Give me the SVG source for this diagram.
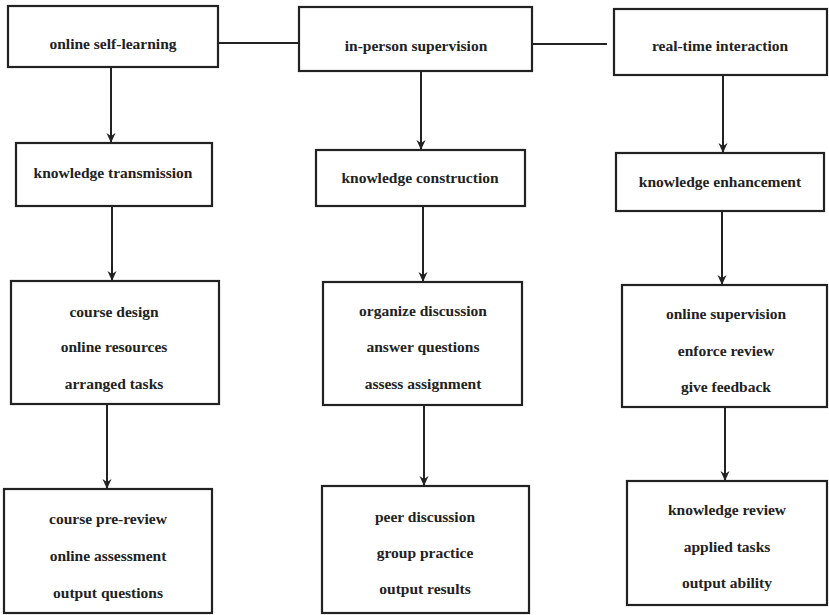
<svg xmlns="http://www.w3.org/2000/svg" width="829" height="615" viewBox="0 0 829 615">
<style>
.box{fill:#fff;stroke:#222;stroke-width:2.2}
.t{font-family:'Liberation Serif','Times New Roman','DejaVu Serif',serif;font-weight:700;font-size:15.5px;fill:#222;text-anchor:middle}
.ln{stroke:#222;stroke-width:2;fill:none}
</style>
<defs>
<marker id="ah" viewBox="0 0 10 10" refX="9" refY="5" markerWidth="10" markerHeight="10" markerUnits="userSpaceOnUse" orient="auto">
<path d="M0,0.5 L10,5 L0,9.5 L3,5 Z" fill="#222"/>
</marker>
</defs>
<rect width="829" height="615" fill="#fff"/>
<g id="connectors">
<line class="ln" x1="218" y1="43" x2="299" y2="43"/>
<line class="ln" x1="532" y1="44" x2="607" y2="44"/>
<line class="ln" x1="111" y1="67" x2="111" y2="142" marker-end="url(#ah)"/>
<line class="ln" x1="112" y1="206" x2="112" y2="280" marker-end="url(#ah)"/>
<line class="ln" x1="107" y1="404" x2="107" y2="488" marker-end="url(#ah)"/>
<line class="ln" x1="421" y1="71" x2="421" y2="149" marker-end="url(#ah)"/>
<line class="ln" x1="423" y1="206" x2="423" y2="281" marker-end="url(#ah)"/>
<line class="ln" x1="424" y1="405" x2="424" y2="485" marker-end="url(#ah)"/>
<line class="ln" x1="723" y1="75" x2="723" y2="152" marker-end="url(#ah)"/>
<line class="ln" x1="722" y1="211" x2="722" y2="284" marker-end="url(#ah)"/>
<line class="ln" x1="725" y1="407" x2="725" y2="480" marker-end="url(#ah)"/>
</g>
<g font-family="Liberation Serif, serif">
<g id="n1"><rect class="box" x="8" y="6" width="210" height="61"/><text class="t" x="113" y="49">online self-learning</text></g>
<g id="n2"><rect class="box" x="299" y="7" width="233" height="64"/><text class="t" x="416" y="51">in-person supervision</text></g>
<g id="n3"><rect class="box" x="614" y="9" width="213" height="66"/><text class="t" x="720" y="51">real-time interaction</text></g>
<g id="n4"><rect class="box" x="16" y="143" width="196" height="63"/><text class="t" x="113" y="178">knowledge transmission</text></g>
<g id="n5"><rect class="box" x="316" y="150" width="209" height="56"/><text class="t" x="420" y="183">knowledge construction</text></g>
<g id="n6"><rect class="box" x="616" y="153" width="208" height="58"/><text class="t" x="720" y="187">knowledge enhancement</text></g>
<g id="n7"><rect class="box" x="11" y="281" width="208" height="123"/>
<text class="t" x="114" y="317">course design</text><text class="t" x="114" y="352">online resources</text><text class="t" x="114" y="389">arranged tasks</text></g>
<g id="n8"><rect class="box" x="323" y="282" width="199" height="123"/>
<text class="t" x="423" y="316">organize discussion</text><text class="t" x="423" y="352">answer questions</text><text class="t" x="423" y="389">assess assignment</text></g>
<g id="n9"><rect class="box" x="622" y="285" width="205" height="122"/>
<text class="t" x="726" y="319">online supervision</text><text class="t" x="726" y="356">enforce review</text><text class="t" x="726" y="392">give feedback</text></g>
<g id="n10"><rect class="box" x="4" y="489" width="208" height="124"/>
<text class="t" x="108" y="524">course pre-review</text><text class="t" x="108" y="561">online assessment</text><text class="t" x="108" y="598">output questions</text></g>
<g id="n11"><rect class="box" x="322" y="486" width="207" height="127"/>
<text class="t" x="425" y="522">peer discussion</text><text class="t" x="425" y="558">group practice</text><text class="t" x="425" y="594">output results</text></g>
<g id="n12"><rect class="box" x="627" y="481" width="200" height="124"/>
<text class="t" x="727" y="515">knowledge review</text><text class="t" x="727" y="552">applied tasks</text><text class="t" x="727" y="588">output ability</text></g>
</g>
</svg>
